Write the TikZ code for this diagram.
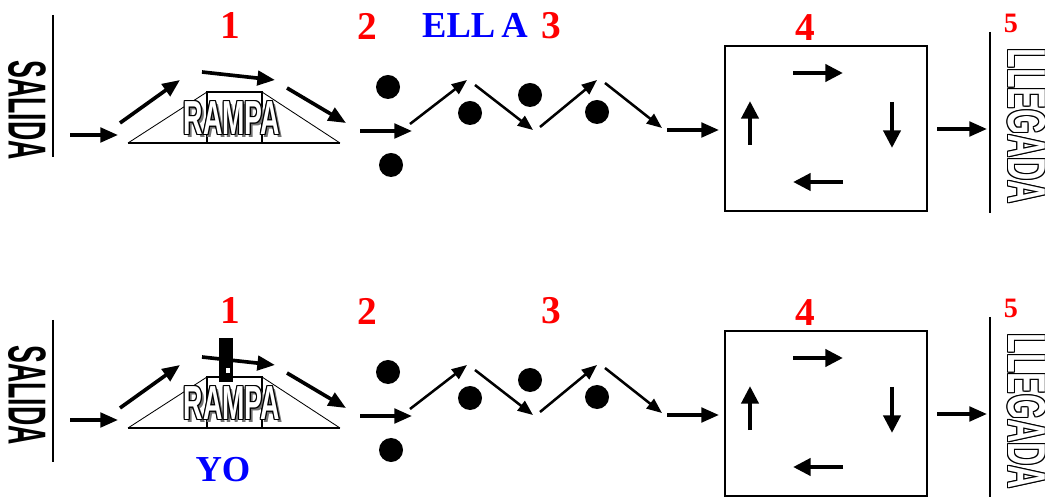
\documentclass[tikz,border=0pt]{standalone}
\usepackage{fontspec}
\setmainfont{Liberation Serif}
\newfontfamily\signfont{Liberation Sans}
\usepackage{tikz}
\usetikzlibrary{arrows.meta, calc}
\usepackage{xcolor}
\definecolor{numred}{HTML}{FF0000}
\definecolor{nameblue}{HTML}{0000FF}

\begin{document}
\begin{tikzpicture}[
    x=0.025cm, y=-0.025cm,
    num/.style={text=numred, font=\bfseries\fontsize{28}{30}\selectfont, inner sep=0pt},
    who/.style={text=nameblue, font=\bfseries\fontsize{26}{28}\selectfont, inner sep=0pt},
    dot/.style={circle, fill, minimum size=0.6cm, inner sep=0pt},
    sign/.style={rotate=-90, inner sep=0pt, font=\signfont\bfseries\fontsize{38}{38}\selectfont},
    ramp/.style={inner sep=0pt, font=\signfont\bfseries\fontsize{34}{34}\selectfont},
    mv/.style={-{Triangle[length=4.4mm,width=3.6mm]}, line width=2.6pt},
    zz/.style={-{Triangle[length=3.8mm,width=3mm]}, line width=1.8pt},
    turn/.style={-{Triangle[length=4.4mm,width=4.2mm]}, line width=3.2pt}
]
\useasboundingbox (0,0) rectangle (1045,497);
% both rows: ELLA on top, YO below
\foreach \r/\o/\lo in {t/0/0, b/285/305} {
  % start post
  \coordinate (sa\r) at (53,15+\lo);
  \coordinate (sb\r) at (53,157+\lo);
  \draw[line width=1pt] (sa\r) -- (sb\r);
  \node[sign] (sal\r) at (27,110+\o) {\scalebox{0.5}[1]{SALIDA}};
  % numbers
  \node[num] (n1\r) at (230,26+\o) {1};
  \node[num] (n2\r) at (367,26+\o) {2};
  \node[num] (n3\r) at (551,26+\o) {3};
  \node[num] (n4\r) at (805,28+\o) {4};
  \node[num, font=\bfseries\fontsize{20}{22}\selectfont] (n5\r) at (1011,23+\o) {5};
  % ramp
  \coordinate (r1\r) at (128,143+\o);
  \coordinate (r2\r) at (207,92+\o);
  \coordinate (r3\r) at (262,92+\o);
  \coordinate (r4\r) at (340,143+\o);
  \coordinate (r5\r) at (207,143+\o);
  \draw[line width=0.6pt] (r1\r) -- (r2\r);
  \draw[line width=0.6pt] (r3\r) -- (r4\r);
  \draw[line width=1.2pt] (r1\r) -- (r4\r);
  \draw[line width=1pt] (r5\r) rectangle (r3\r);
  \node[ramp, text=black!55] at (235,121+\o) {\scalebox{0.56}[1]{RAMPA}};
  \foreach \dx/\dy in {-1/0,1/0,0/-1,0/1,-1/-1,1/1,-1/1,1/-1}
    \node[ramp] at (232+\dx,118+\o+\dy) {\scalebox{0.56}[1]{RAMPA}};
  \node[ramp, text=white] (rampa\r) at (232,118+\o) {\scalebox{0.56}[1]{RAMPA}};
  % obstacles
  \node[dot] (d1\r) at (388,87+\o) {};
  \node[dot] (d2\r) at (391,165+\o) {};
  \node[dot] (d3\r) at (470,113+\o) {};
  \node[dot] (d4\r) at (530,95+\o) {};
  \node[dot] (d5\r) at (597,112+\o) {};
  % box
  \node[draw, line width=1.2pt, minimum width=5.05cm, minimum height=4.125cm, inner sep=0pt] (box\r) at (826,128.5+\o) {};
  % path points
  \coordinate (p0\r) at (70,135+\o);   \coordinate (p1\r) at (118,135+\o);
  \coordinate (p2\r) at (120,123+\o);  \coordinate (p3\r) at (180,80+\o);
  \coordinate (p4\r) at (202,72+\o);   \coordinate (p5\r) at (275,80+\o);
  \coordinate (p6\r) at (287,88+\o);   \coordinate (p7\r) at (346,123+\o);
  \coordinate (p8\r) at (360,131+\o);  \coordinate (p9\r) at (412,131+\o);
  \coordinate (p10\r) at (410,124+\o); \coordinate (p11\r) at (467,80+\o);
  \coordinate (p12\r) at (475,85+\o);  \coordinate (p13\r) at (533,130+\o);
  \coordinate (p14\r) at (540,127+\o); \coordinate (p15\r) at (597,80+\o);
  \coordinate (p16\r) at (605,83+\o);  \coordinate (p17\r) at (662,128+\o);
  \coordinate (p18\r) at (667,130+\o); \coordinate (p19\r) at (719,130+\o);
  \coordinate (p20\r) at (937,129+\o); \coordinate (p21\r) at (987,129+\o);
  \draw[mv] (p0\r) -- (p1\r);
  \draw[mv] (p2\r) -- (p3\r);
  \draw[mv] (p4\r) -- (p5\r);
  \draw[mv] (p6\r) -- (p7\r);
  \draw[mv] (p8\r) -- (p9\r);
  \draw[zz] (p10\r) -- (p11\r);
  \draw[zz] (p12\r) -- (p13\r);
  \draw[zz] (p14\r) -- (p15\r);
  \draw[zz] (p16\r) -- (p17\r);
  \draw[mv] (p18\r) -- (p19\r);
  \draw[mv] (p20\r) -- (p21\r);
  % round inside the box
  \coordinate (q1\r) at (793,73+\o);  \coordinate (q2\r) at (843,73+\o);
  \coordinate (q3\r) at (892,102+\o); \coordinate (q4\r) at (892,148+\o);
  \coordinate (q5\r) at (843,182+\o); \coordinate (q6\r) at (793,182+\o);
  \coordinate (q7\r) at (750,145+\o); \coordinate (q8\r) at (750,101+\o);
  \draw[turn] (q1\r) -- (q2\r);
  \draw[turn] (q3\r) -- (q4\r);
  \draw[turn] (q5\r) -- (q6\r);
  \draw[turn] (q7\r) -- (q8\r);
  % finish post
  \coordinate (ea\r) at (990,32+\o);
  \coordinate (eb\r) at (990,213+\o);
  \draw[line width=1pt] (ea\r) -- (eb\r);
  \foreach \dx/\dy in {-1/0,1/0,0/-1,0/1,-1/-1,1/1,-1/1,1/-1}
    \node[sign] at (1027+\dx,126+\o+\dy) {\scalebox{0.6}[1]{LLEGADA}};
  \node[sign, text=white] (lleg\r) at (1027,126+\o) {\scalebox{0.6}[1]{LLEGADA}};
}
% names
\node[who] (ella) at (475,25) {ELL\,A};
\node[who] (yo) at (223,470) {YO};
% runner on the ramp
\node[fill, minimum width=0.35cm, minimum height=1.1cm, inner sep=0pt] (runner) at (226,360) {};
\fill[white] (226,368) rectangle (230,373);
\end{tikzpicture}
\end{document}
